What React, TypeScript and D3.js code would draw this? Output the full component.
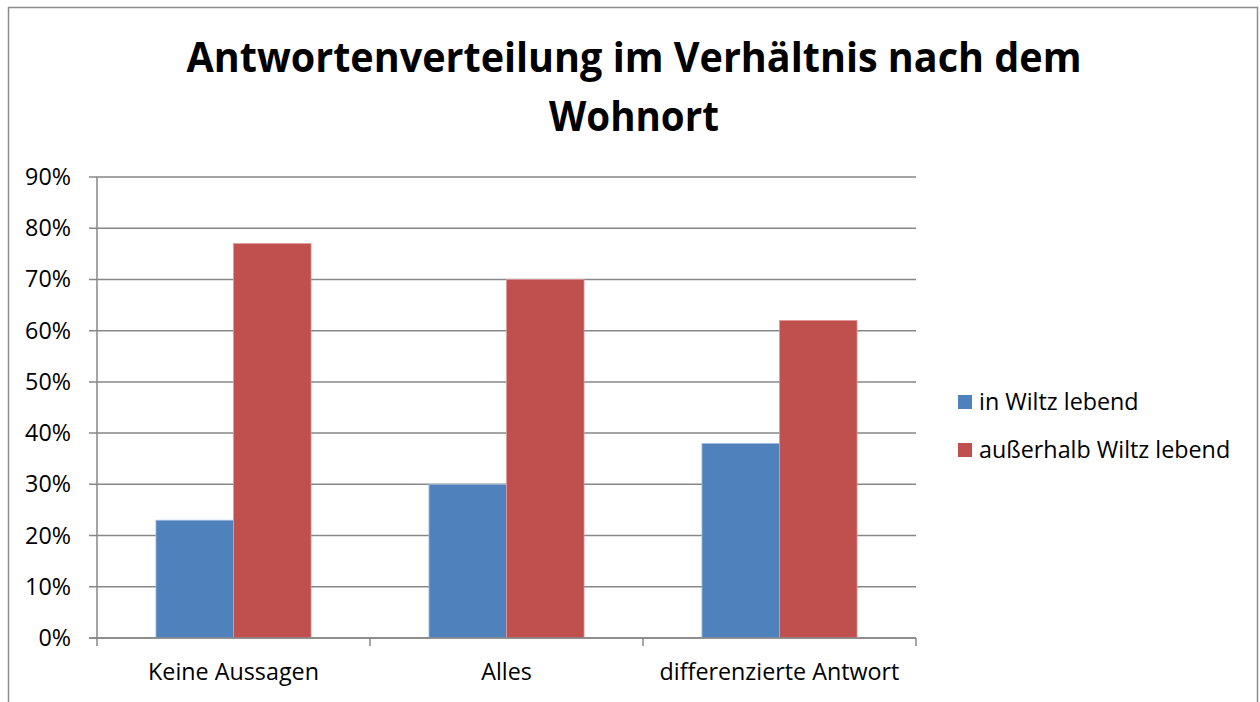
import * as d3 from "d3";
import React from "react";

const categories = ["Keine Aussagen", "Alles", "differenzierte Antwort"];
const seriesNames = ["in Wiltz lebend", "außerhalb Wiltz lebend"];
const inWiltz = [0.23, 0.3, 0.38];
const ausserhalb = [0.77, 0.7, 0.62];
const colors = ["#4F81BD", "#C0504D"];
const yTicks = [0, 0.1, 0.2, 0.3, 0.4, 0.5, 0.6, 0.7, 0.8, 0.9];

const W = 1260;
const H = 702;
const plot = { left: 97, right: 916, top: 177, bottom: 638 };
const font = "'Open Sans', Lato, sans-serif";
const labelSize = 23.3;

export default function App() {
  const x = d3
    .scaleBand()
    .domain(categories)
    .range([plot.left, plot.right])
    .paddingInner(0)
    .paddingOuter(0);

  // two bars side by side, gap of ~0.76 bar width on each side
  const x1 = d3
    .scaleBand()
    .domain(seriesNames)
    .range([0, x.bandwidth()])
    .paddingInner(0)
    .paddingOuter(0.76);

  const y = d3.scaleLinear().domain([0, 0.9]).range([plot.bottom, plot.top]);
  const fmt = d3.format(".0%");
  const values = [inWiltz, ausserhalb];

  // boundaries for the x axis tick marks
  const bounds = categories.map((c) => x(c) as number).concat(plot.right);

  return (
    <svg
      width={W}
      height={H}
      style={{ position: "absolute", left: 0, top: 0, background: "#fff" }}
    >
      <rect x={0} y={0} width={W} height={H} fill="#fff" />
      {/* outer chart border */}
      <rect
        x={8.5}
        y={7.5}
        width={1249}
        height={720}
        fill="none"
        stroke="#8c8c8c"
        strokeWidth={1.5}
      />

      {/* title */}
      <text
        x={634}
        y={72}
        textAnchor="middle"
        fontFamily={font}
        fontWeight="bold"
        fontSize={42}
        textLength={895}
        lengthAdjust="spacingAndGlyphs"
        fill="#000"
      >
        Antwortenverteilung im Verhältnis nach dem
      </text>
      <text
        x={634}
        y={131}
        textAnchor="middle"
        fontFamily={font}
        fontWeight="bold"
        fontSize={42}
        textLength={170}
        lengthAdjust="spacingAndGlyphs"
        fill="#000"
      >
        Wohnort
      </text>

      {/* gridlines and y ticks */}
      {yTicks.map((t) => (
        <g key={t}>
          <line
            x1={plot.left - 8}
            x2={plot.right}
            y1={y(t)}
            y2={y(t)}
            stroke="#878787"
            strokeWidth={1.5}
          />
          <text
            x={71}
            y={y(t) + 8}
            textAnchor="end"
            fontFamily={font}
            fontSize={labelSize}
            fill="#000"
          >
            {fmt(t)}
          </text>
        </g>
      ))}

      {/* bars */}
      {categories.map((c, i) => (
        <g key={c} transform={`translate(${x(c)},0)`}>
          {seriesNames.map((s, j) => (
            <rect
              key={s}
              x={x1(s)}
              y={y(values[j][i])}
              width={x1.bandwidth()}
              height={plot.bottom - y(values[j][i])}
              fill={colors[j]}
              stroke={j === 0 ? "#a9c1e0" : "#e09a98"}
              strokeWidth={0.8}
            />
          ))}
        </g>
      ))}

      {/* axes */}
      <line
        x1={plot.left}
        x2={plot.left}
        y1={plot.top}
        y2={plot.bottom}
        stroke="#878787"
        strokeWidth={1.5}
      />
      <line
        x1={plot.left - 8}
        x2={plot.right}
        y1={plot.bottom}
        y2={plot.bottom}
        stroke="#878787"
        strokeWidth={1.5}
      />
      {bounds.map((b, i) => (
        <line
          key={i}
          x1={b}
          x2={b}
          y1={plot.bottom}
          y2={plot.bottom + 8}
          stroke="#878787"
          strokeWidth={1.5}
        />
      ))}
      {categories.map((c) => (
        <text
          key={c}
          x={(x(c) as number) + x.bandwidth() / 2}
          y={680}
          textAnchor="middle"
          fontFamily={font}
          fontSize={labelSize}
          fill="#000"
        >
          {c}
        </text>
      ))}

      {/* legend */}
      {seriesNames.map((s, j) => (
        <g key={s} transform={`translate(958,${395 + j * 48})`}>
          <rect x={0} y={0} width={14} height={14} fill={colors[j]} />
          <text x={21} y={14.5} fontFamily={font} fontSize={labelSize} fill="#000">
            {s}
          </text>
        </g>
      ))}
    </svg>
  );
}
